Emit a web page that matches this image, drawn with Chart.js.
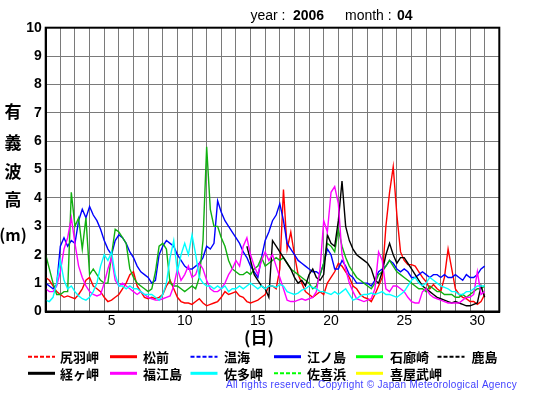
<!DOCTYPE html>
<html><head><meta charset="utf-8">
<script src="https://cdn.jsdelivr.net/npm/chart.js@4/dist/chart.umd.min.js"></script>
<style>html,body{margin:0;padding:0;background:#fff;}#wrap{width:555px;height:395px;position:relative;}</style>
</head><body><div id="wrap"><canvas id="c" width="555" height="395"></canvas></div>
<script>
// time in days (1.0 = April 1, 00:00), 6-hour steps
const times = [1,1.25,1.5,1.75,2,2.25,2.5,2.75,3,3.25,3.5,3.75,4,4.25,4.5,4.75,5,5.25,5.5,5.75,6,6.25,6.5,6.75,7,7.25,7.5,7.75,8,8.25,8.5,8.75,9,9.25,9.5,9.75,10,10.25,10.5,10.75,11,11.25,11.5,11.75,12,12.25,12.5,12.75,13,13.25,13.5,13.75,14,14.25,14.5,14.75,15,15.25,15.5,15.75,16,16.25,16.5,16.75,17,17.25,17.5,17.75,18,18.25,18.5,18.75,19,19.25,19.5,19.75,20,20.25,20.5,20.75,21,21.25,21.5,21.75,22,22.25,22.5,22.75,23,23.25,23.5,23.75,24,24.25,24.5,24.75,25,25.25,25.5,25.75,26,26.25,26.5,26.75,27,27.25,27.5,27.75,28,28.25,28.5,28.75,29,29.25,29.5,29.75,30,30.25,30.5,30.75,31];

const matsumae = [1.2,1.1,0.9,0.7, 0.6,0.5,0.55,0.5, 0.45,0.6,0.8,1.1, 1.2,0.9,0.8,0.7, 0.5,0.35,0.4,0.5, 0.6,0.8,1.0,1.3, 1.4,0.9,0.7,0.5, 0.45,0.5,0.45,0.5, 0.6,0.9,1.1,0.8, 0.5,0.35,0.3,0.3, 0.25,0.35,0.45,0.3, 0.2,0.25,0.3,0.35, 0.5,0.7,0.6,0.65, 0.7,0.55,0.5,0.35, 0.3,0.35,0.4,0.5, 0.6,0.9,0.9,0.8, 1.5,4.3,2.2,2.8, 2.0,1.3,1.0,0.7, 0.6,0.5,0.6,0.7, 0.6,1.0,1.2,1.4, 1.7,1.6,1.4,1.2, 0.9,0.8,0.6,0.5, 0.45,0.35,0.6,0.9, 1.2,3.0,4.2,5.1, 3.4,2.1,1.8,1.65, 1.65,1.6,1.4,1.2, 1.05,0.8,0.95,0.8, 0.7,1.2,2.2,1.5, 0.8,0.6,0.5,0.45, 0.35,0.35,0.25,0.35, 0.6];
const enoshima = [1.0,0.9,0.8,0.95, 2.3,2.6,2.3,2.5, 2.4,3.2,3.6,3.3, 3.7,3.4,3.2,2.9, 2.5,2.2,2.0,2.5, 2.7,2.6,2.4,2.1, 1.9,1.6,1.4,1.3, 1.2,1.0,1.1,2.0, 2.3,2.5,2.4,2.3, 2.0,1.8,1.6,1.5, 1.5,1.6,1.7,1.9, 2.3,2.2,2.4,3.9, 3.5,3.2,3.0,2.8, 2.6,2.4,2.1,1.9, 1.6,1.4,1.2,1.9, 2.5,2.8,3.2,3.4, 3.8,3.2,2.4,2.2, 2.0,1.8,1.7,1.6, 1.5,1.4,1.4,1.3, 1.7,2.2,2.0,1.5, 1.5,1.8,1.6,1.3, 1.2,1.0,1.0,1.0, 1.0,0.9,1.1,1.4, 1.5,1.6,1.8,1.7, 1.5,1.4,1.5,1.4, 1.2,1.2,1.3,1.4, 1.3,1.2,1.3,1.3, 1.2,1.3,1.2,1.2, 1.3,1.2,1.1,1.3, 1.2,1.2,1.3,1.5, 1.6];
const irozaki = [2.0,1.5,1.0,0.6, 0.6,0.7,0.7,4.2, 3.0,3.3,2.2,3.3, 1.3,1.5,1.3,1.1, 1.0,1.0,2.0,2.9, 2.8,2.6,2.4,1.5, 1.2,1.0,0.9,0.8, 0.7,0.8,1.4,2.3, 2.4,2.2,1.0,0.9, 0.9,0.8,0.7,0.8, 0.9,0.8,1.2,2.5, 5.8,3.6,3.0,3.0, 2.6,2.3,1.8,1.5, 1.4,1.3,1.3,1.4, 1.3,1.5,1.6,1.9, 1.6,1.7,1.8,1.9, 1.8,1.9,1.7,1.5, 1.4,1.3,1.2,1.1, 1.0,0.8,0.9,1.3, 1.7,2.4,2.3,2.1, 2.9,2.3,1.9,1.6, 1.4,1.2,1.1,1.0, 0.9,0.8,1.0,1.3, 1.4,1.6,1.8,1.6, 1.4,1.3,1.2,1.1, 1.0,0.9,0.8,0.8, 0.7,0.9,0.8,0.7, 0.7,0.6,0.6,0.6, 0.5,0.5,0.6,0.5, 0.6,0.7,0.8,0.8, 0.9];
const kyogamisaki = [null,null,null,null, null,null,null,null, null,null,null,null, null,null,null,null, null,null,null,null, null,null,null,null, null,null,null,null, null,null,null,null, null,null,null,null, null,null,null,null, null,null,null,null, null,null,null,null, null,null,null,null, null,null,null,2.3, 1.8,1.3,1.1,0.9, 0.8,0.5,2.5,2.3, 2.1,1.9,1.7,1.5, 1.2,1.0,1.1,0.9, 1.3,1.5,1.2,1.1, 1.3,2.7,2.4,2.3, 3.2,4.6,3.0,2.5, 2.2,2.0,1.9,1.8, 1.7,1.5,1.1,1.0, 1.4,2.0,2.4,2.0, 1.7,1.9,1.9,1.7, 1.5,1.3,1.1,0.9, 0.8,0.7,0.6,0.5, 0.45,0.4,0.35,0.3, 0.35,0.3,0.25,0.2, 0.2,0.25,0.3,0.9, 0.5];
const fukuejima = [0.8,0.7,0.7,0.9, 1.4,2.2,2.6,3.3, 2.4,1.6,1.2,0.9, 0.7,0.6,0.55,0.6, 1.0,1.5,1.9,1.1, 0.9,1.0,0.9,0.8, 0.7,0.6,0.7,0.6, 0.5,0.45,0.4,0.4, 0.45,0.5,0.55,0.9, 1.5,1.1,1.3,1.6, 1.2,1.3,1.7,1.5, 1.1,0.8,0.7,0.7, 0.8,1.0,1.3,1.5, 1.8,1.6,2.3,2.6, 2.0,1.6,1.3,1.8, 2.1,1.8,2.0,1.6, 1.2,0.8,0.4,0.35, 0.35,0.4,0.45,0.4, 0.45,0.5,0.7,1.5, 3.2,2.8,4.2,4.4, 3.8,2.0,1.5,1.0, 0.7,0.45,0.4,0.35, 0.4,0.45,0.8,2.1, 1.8,0.8,0.7,0.9, 0.9,0.8,0.7,0.5, 0.35,0.3,0.3,0.7, 0.8,0.6,0.5,0.45, 0.4,0.35,0.3,0.3, 0.3,0.3,0.4,0.5, 0.5,0.6,1.4,0.6, 0.7];
const satamisaki = [0.4,0.35,0.5,1.0, 1.8,1.1,0.8,0.9, 0.7,0.55,0.45,0.4, 0.5,0.7,1.0,1.6, 2.0,1.8,2.1,1.3, 0.9,0.9,0.8,0.9, 0.8,0.8,0.7,0.6, 0.6,0.6,0.5,0.4, 0.6,1.0,1.9,2.5, 1.4,2.0,2.4,2.0, 2.7,2.0,1.2,1.0, 0.9,0.9,0.8,0.9, 0.8,0.9,0.7,0.8, 0.8,0.9,0.8,0.9, 1.0,0.9,0.8,0.9, 0.8,0.9,0.9,0.85, 0.95,0.9,0.7,0.65, 0.6,0.65,0.75,0.8, 0.9,0.85,0.8,0.7, 0.7,0.65,0.6,0.7, 0.6,0.7,0.8,0.6, 0.4,0.45,0.55,0.6, 0.6,0.65,0.6,0.65, 0.7,0.6,0.6,0.55, 0.5,0.6,0.7,0.9, 1.1,1.2,1.0,0.9, 1.0,1.2,1.1,1.0, 0.9,0.85,0.8,0.7, 0.7,0.6,0.6,0.7, 0.7,0.8,0.9,0.9, 0.9];
const empty = [];

const stationNames = ['尻羽岬','松前','温海','江ノ島','石廊崎','鹿島','経ヶ岬','福江島','佐多岬','佐喜浜','喜屋武岬'];
const yTickLabels = ['0','1','2','3','4','5','6','7','8','9','10'];
const xTickLabels = ['5','10','15','20','25','30'];

const styles = [
  {c:'#ff0000', lc:'#ff0000', dash:true},
  {c:'#ff0000', lc:'#ff0000', dash:false},
  {c:'#0000ff', lc:'#0000ff', dash:true},
  {c:'#0000ff', lc:'#0000ff', dash:false},
  {c:'#10b010', lc:'#00ff00', dash:false},
  {c:'#000000', lc:'#000000', dash:true},
  {c:'#000000', lc:'#000000', dash:false},
  {c:'#ff00ff', lc:'#ff00ff', dash:false},
  {c:'#00ffff', lc:'#00ffff', dash:false},
  {c:'#00ff00', lc:'#00ff00', dash:true},
  {c:'#ffff00', lc:'#ffff00', dash:false}
];
const seriesData = [empty, matsumae, empty, enoshima, irozaki, empty, kyogamisaki, fukuejima, satamisaki, empty, empty];

const datasets = stationNames.map((name,i)=>({
  label:name,
  data: seriesData[i].map((v,k)=>({x:times[k], y:v})),
  borderColor: styles[i].c,
  backgroundColor: styles[i].c,
  borderWidth: 1.4,
  borderDash: styles[i].dash ? [4,2] : [],
  pointRadius: 0,
  tension: 0,
  fill: false,
  spanGaps: false,
  order: 20 - i
}));

const CJK = '"Noto Sans CJK JP", sans-serif';
const LAT = '"Liberation Sans", Arial, sans-serif';

const decor = {
  id:'decor',
  afterDraw(chart){
    const ctx = chart.ctx, a = chart.chartArea;
    ctx.save();
    ctx.strokeStyle = '#000'; ctx.lineWidth = 2;
    ctx.strokeRect(a.left, a.top, a.right - a.left, a.bottom - a.top);
    ctx.fillStyle = '#000'; ctx.textBaseline = 'alphabetic'; ctx.textAlign = 'left';
    ctx.font = '14px ' + LAT; ctx.fillText('year :', 250.5, 20);
    ctx.font = 'bold 14px ' + LAT; ctx.fillText('2006', 293, 20);
    ctx.font = '14px ' + LAT; ctx.fillText('month :', 345, 20);
    ctx.font = 'bold 14px ' + LAT; ctx.fillText('04', 397, 20);
    ctx.textAlign = 'center'; ctx.textBaseline = 'middle';
    ctx.font = 'bold 17px ' + CJK;
    ['有','義','波','高'].forEach((ch,i)=>ctx.fillText(ch, 13, [111.5,143,171.5,200][i]));
    ctx.font = 'bold 16px ' + CJK; ctx.fillText('(m)', 13, 235);
    ctx.font = 'bold 17px ' + CJK; ctx.fillText('(日)', 259, 338);
    const colX = [28,110,190.5,274,356,437.5];
    const txtX = [60,143,224,307,390,471.5];
    const rowY = [356.7,373.3];
    chart.data.datasets.forEach((ds,i)=>{
      const r = Math.floor(i/6), c = i%6;
      const y = rowY[r];
      ctx.beginPath();
      ctx.strokeStyle = styles[i].lc;
      if (styles[i].dash){ ctx.setLineDash([4,2]); ctx.lineWidth = 2; }
      else { ctx.setLineDash([]); ctx.lineWidth = 3; }
      ctx.moveTo(colX[c], y); ctx.lineTo(colX[c]+27, y); ctx.stroke();
      ctx.setLineDash([]);
      ctx.fillStyle = '#000'; ctx.textAlign = 'left'; ctx.textBaseline = 'middle';
      ctx.font = 'bold 13px ' + CJK;
      ctx.fillText(ds.label, txtX[c], y+0.5);
    });
    const cp = 'All rights reserved. Copyright \u00a9 Japan Meteorological Agency';
    ctx.font = '10px ' + LAT;
    ctx.fillStyle = '#3f3fff'; ctx.textAlign = 'left'; ctx.textBaseline = 'middle';
    const w = ctx.measureText(cp).width;
    const ls = (291 - w) / cp.length;
    if ('letterSpacing' in ctx) { ctx.letterSpacing = ls.toFixed(2) + 'px'; ctx.fillText(cp, 226, 385); ctx.letterSpacing = '0px'; }
    else { let x = 226; for (const ch of cp){ ctx.fillText(ch, x, 385); x += ctx.measureText(ch).width + ls; } }
    ctx.restore();
  }
};

new Chart(document.getElementById('c'), {
  type:'line',
  data:{datasets},
  options:{
    responsive:false, animation:false, devicePixelRatio:1,
    layout:{padding:{left:0, top:27.7, right:55.7, bottom:63.5}},
    plugins:{legend:{display:false}, title:{display:false}, tooltip:{enabled:false}},
    scales:{
      x:{
        type:'linear', min:1, max:32,
        afterBuildTicks:(ax)=>{ const t=[]; for(let v=1; v<=32; v++) t.push({value:v}); ax.ticks=t; },
        afterFit:(ax)=>{ ax.height = 20; },
        ticks:{
          autoSkip:false, maxRotation:0, minRotation:0, padding:1, labelOffset:7.3,
          color:'#000', font:{family:LAT, size:14},
          callback:(v)=> xTickLabels.includes(String(v)) ? String(v) : ''
        },
        grid:{color:'#7a7a7a', lineWidth:1, drawTicks:false},
        border:{display:true, color:'#000', width:2}
      },
      y:{
        min:0, max:10,
        afterBuildTicks:(ax)=>{ ax.ticks = yTickLabels.map(s=>({value:Number(s)})); },
        afterFit:(ax)=>{ ax.width = 45.7; },
        ticks:{ padding:4, color:'#000', font:{family:LAT, size:14, weight:'bold'}, callback:(v)=>String(v) },
        grid:{color:'#7a7a7a', lineWidth:1, drawTicks:false},
        border:{display:true, color:'#000', width:2}
      }
    }
  },
  plugins:[decor]
});
</script>
</body></html>
